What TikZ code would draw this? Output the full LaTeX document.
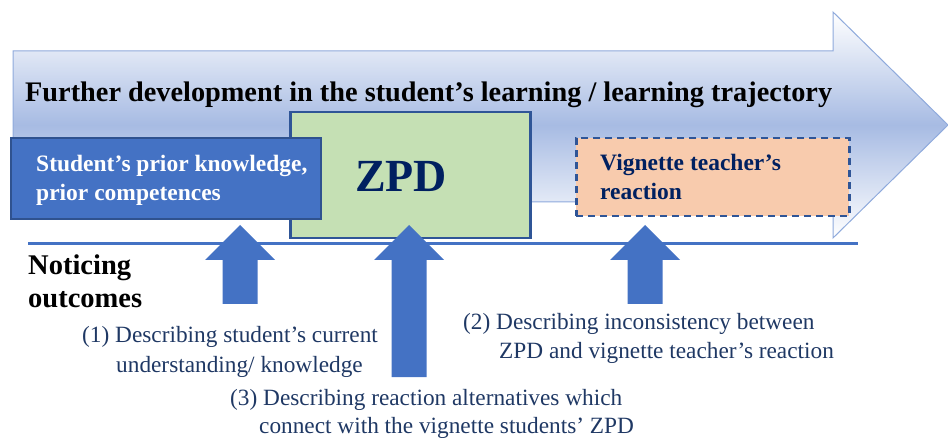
\documentclass[tikz,border=0pt]{standalone}
\usepackage{fontspec}
\setmainfont{Liberation Serif}
\definecolor{arrowblue}{HTML}{4472C4}
\definecolor{darkborder}{HTML}{2F528F}
\definecolor{zpdfill}{HTML}{C5E0B4}
\definecolor{zpdborder}{HTML}{2F5597}
\definecolor{vignfill}{HTML}{F8CBAD}
\definecolor{navy}{HTML}{002060}
\definecolor{desctext}{HTML}{1F3864}
\definecolor{bigblue}{HTML}{A7BBE3}
\definecolor{bigborder}{HTML}{8FAADC}
\tikzset{
  box/.style={draw, rectangle, anchor=north west, inner sep=0pt},
  prior/.style={box, fill=arrowblue, draw=darkborder, line width=2pt},
  zpdbox/.style={box, fill=zpdfill, draw=zpdborder, line width=2.5pt},
  vignbox/.style={box, fill=vignfill, draw=zpdborder, line width=2.5pt, dash pattern=on 7pt off 5pt},
  boxtext/.style={anchor=base west, align=left, inner sep=0pt, font=\bfseries\fontsize{23.5}{29}\selectfont},
  desc/.style={anchor=base west, inner sep=0pt, text=desctext, font=\fontsize{23.3}{28}\selectfont},
  upar/.style={fill=arrowblue},
}
\begin{document}
\begin{tikzpicture}[x=1pt,y=-1pt]
\useasboundingbox (0,0) rectangle (948,438);
% big arrow with vertical gradient (white - blue - white)
\begin{scope}
  \clip (13,51) -- (833,51) -- (833,12) -- (948,125) -- (833,238) -- (833,202) -- (13,202) -- cycle;
  \foreach \i in {0,...,226} {
    \pgfmathsetmacro\t{100*(1-abs(12+\i-125)/113)}
    \fill[bigblue!\t!white] (10,12+\i) rectangle (950,13.3+\i);
  }
\end{scope}
\draw[bigborder, line width=1pt]
  (13,51) -- (833,51) -- (833,12) -- (948,125) -- (833,238) -- (833,202) -- (13,202) -- cycle;
\node[anchor=base west, inner sep=0pt, font=\bfseries\fontsize{28.3}{32}\selectfont] (title) at (25,102)
  {Further development in the student’s learning / learning trajectory};
% boxes
\node[zpdbox, minimum width=240pt, minimum height=126pt] (zpd) at (289,111) {};
\node[anchor=center, inner sep=0pt, text=navy, font=\bfseries\fontsize{46}{50}\selectfont] (zpdtext) at (401,176) {ZPD};
\node[prior, minimum width=310pt, minimum height=81pt] (prior) at (10,137) {};
\node[boxtext, text=white] (priortext) at (36,201) {Student’s prior knowledge,\\prior competences};
\node[vignbox, minimum width=273pt, minimum height=78pt] (vign) at (575,137) {};
\node[boxtext, text=navy] (vigntext) at (600,200) {Vignette teacher’s\\reaction};
% line
\coordinate (l1) at (28,244);
\coordinate (l2) at (858,244);
\draw[arrowblue, line width=3pt] (l1) -- (l2);
% up arrows
\fill[upar] (222.5,304) -- (222.5,260) -- (205,260) -- (240,225) -- (275,260) -- (257.5,260) -- (257.5,304) -- cycle;
\fill[upar] (391.5,377) -- (391.5,260) -- (374,260) -- (409,225) -- (444,260) -- (426.5,260) -- (426.5,377) -- cycle;
\fill[upar] (627.5,304) -- (627.5,260) -- (610,260) -- (645,225) -- (680,260) -- (662.5,260) -- (662.5,304) -- cycle;
% texts
\node[anchor=base west, inner sep=0pt, align=left, font=\bfseries\fontsize{28.5}{33}\selectfont] (notice) at (28,308) {Noticing\\outcomes};
\node[desc] (d1a) at (82,342) {(1) Describing student’s current};
\node[desc] (d1b) at (116,372) {understanding/ knowledge};
\node[desc] (d2a) at (463,330) {(2) Describing inconsistency between};
\node[desc] (d2b) at (499,359) {ZPD and vignette teacher’s reaction};
\node[desc] (d3a) at (230,405) {(3) Describing reaction alternatives which};
\node[desc] (d3b) at (259,433) {connect with the vignette students’ ZPD};
\end{tikzpicture}
\end{document}
